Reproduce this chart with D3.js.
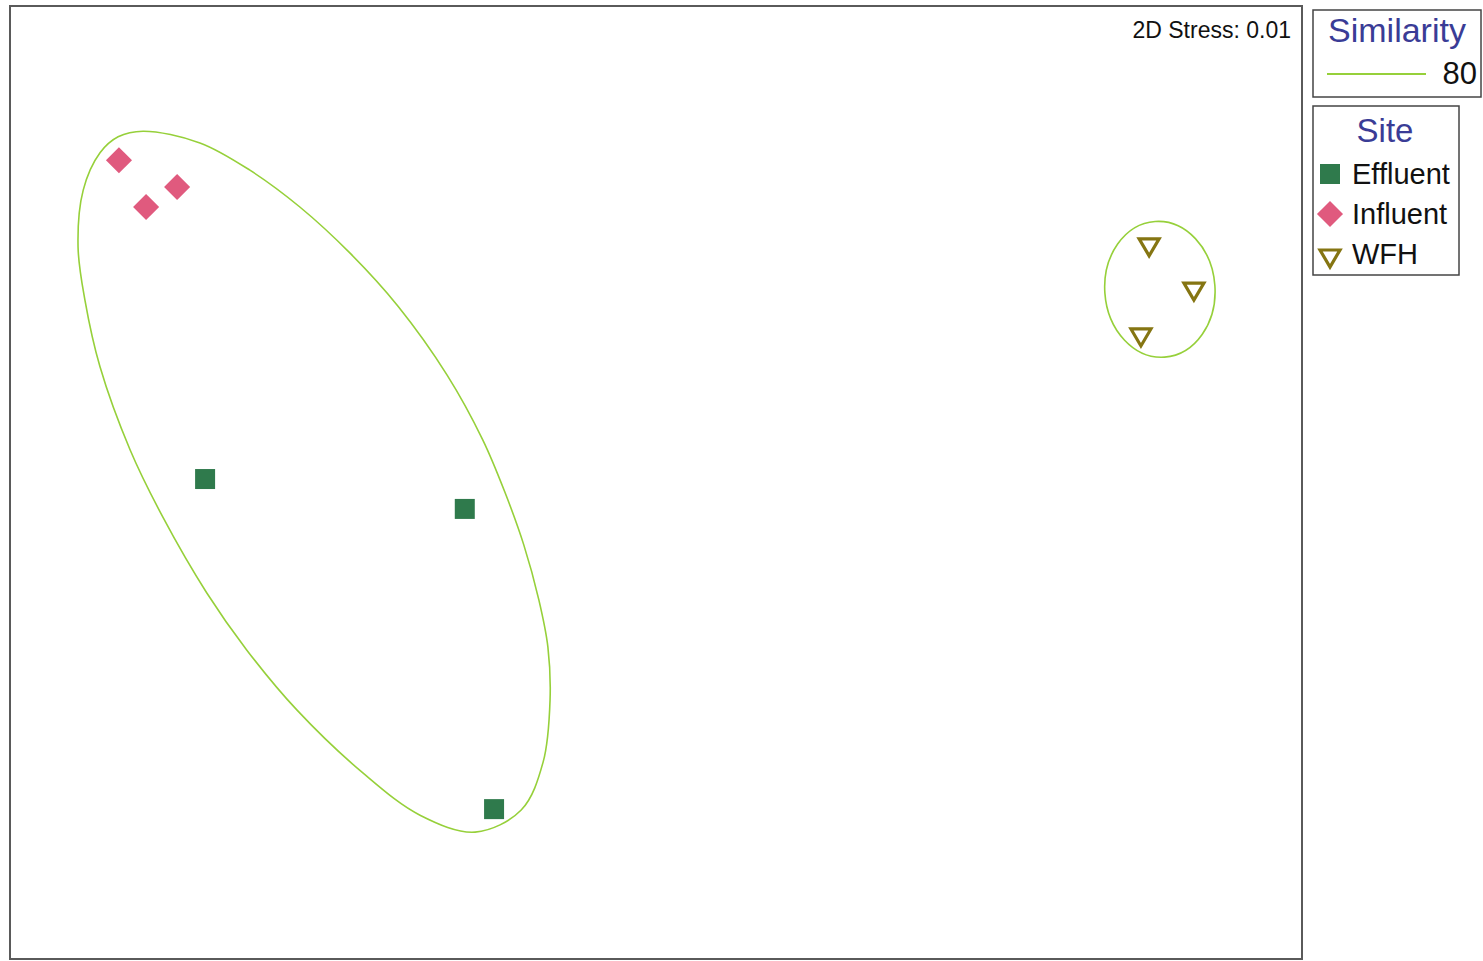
<!DOCTYPE html>
<html><head><meta charset="utf-8">
<script src="https://cdn.jsdelivr.net/npm/d3@7"></script>
<style>body{margin:0;background:#fff}svg{display:block}text{font-family:"Liberation Sans",Arial,sans-serif}</style>
</head><body>
<svg id="c" width="1483" height="961"></svg>
<script>
// nMDS coordinates (arbitrary units)
const sites = ["Effluent", "Influent", "WFH"];
const effluentX = [-1.047, -0.444, -0.376];
const effluentY = [0.008, -0.061, -0.754];
const influentX = [-1.247, -1.184, -1.112];
const influentY = [0.744, 0.636, 0.682];
const wfhX = [1.145, 1.249, 1.126];
const wfhY = [0.544, 0.442, 0.336];
// 80% similarity contour around Effluent + Influent (traced outline, nMDS units)
const contour1X = [-1.191, -1.059, -0.943, -0.827, -0.711, -0.599, -0.485, -0.402, -0.351, -0.307, -0.272, -0.251, -0.246, -0.262, -0.313, -0.420, -0.548, -0.680, -0.834, -0.950, -1.043, -1.145, -1.221, -1.291, -1.326, -1.342, -1.330, -1.291, -1.249];
const contour1Y = [0.811, 0.784, 0.721, 0.636, 0.530, 0.407, 0.248, 0.098, -0.022, -0.144, -0.271, -0.380, -0.502, -0.645, -0.756, -0.807, -0.768, -0.671, -0.525, -0.387, -0.255, -0.080, 0.075, 0.267, 0.421, 0.544, 0.675, 0.761, 0.798];
// 80% similarity contour around WFH: centre x, centre y, semi-axes, rotation (deg)
const contour2 = {cx: 1.170, cy: 0.446, rx: 0.128, ry: 0.157, rot: -4};
const stressLabel = "2D Stress: 0.01";
const similarityLevel = "80";

const svg = d3.select("#c");
const x = d3.scaleLinear().domain([-1.5, 1.5]).range([10, 1302]);
const y = d3.scaleLinear().domain([-1.1, 1.1]).range([959, 6]);

const colors = {Effluent: "#2f7a4c", Influent: "#e05a7e", WFH: "#857512"};
const contourColor = "#96d03a";
const blue = "#3a3c96";

// plot frame
svg.append("rect").attr("x", x(-1.5)).attr("y", y(1.1)).attr("width", x(1.5) - x(-1.5)).attr("height", y(-1.1) - y(1.1))
  .attr("fill", "none").attr("stroke", "#5a5a5a").attr("stroke-width", 2);

// contours
const c1 = contour1X.map((v, i) => [v, contour1Y[i]]);
svg.append("path")
  .attr("d", d3.line().x(d => x(d[0])).y(d => y(d[1])).curve(d3.curveCatmullRomClosed.alpha(0.5))(c1))
  .attr("fill", "none").attr("stroke", contourColor).attr("stroke-width", 1.6);

const ux = x(1) - x(0), uy = y(0) - y(1);
svg.append("ellipse")
  .attr("transform", `translate(${x(contour2.cx)},${y(contour2.cy)}) rotate(${contour2.rot})`)
  .attr("rx", contour2.rx * ux).attr("ry", contour2.ry * uy)
  .attr("fill", "none").attr("stroke", contourColor).attr("stroke-width", 1.6);

const symSquare = d3.symbol().type(d3.symbolSquare).size(400)();
const symDiamond = d3.symbol().type(d3.symbolSquare).size(340)();
const tri = "M-10,-8 L10,-8 L0,9 Z";

function drawMarker(g, site) {
  if (site === "Effluent") g.append("path").attr("d", symSquare).attr("fill", colors.Effluent);
  else if (site === "Influent") g.append("path").attr("d", symDiamond).attr("transform", "rotate(45)").attr("fill", colors.Influent);
  else g.append("path").attr("d", tri).attr("fill", "none").attr("stroke", colors.WFH).attr("stroke-width", 3.2).attr("stroke-linejoin", "miter");
}

const groups = [["Effluent", effluentX, effluentY], ["Influent", influentX, influentY], ["WFH", wfhX, wfhY]];
groups.forEach(([site, xs, ys]) => {
  xs.forEach((v, i) => {
    const g = svg.append("g").attr("transform", `translate(${x(v)},${y(ys[i])})`);
    drawMarker(g, site);
  });
});

// stress label
svg.append("text").attr("x", 1291).attr("y", 38).attr("text-anchor", "end").attr("font-size", 23).attr("fill", "#111").text(stressLabel);

// Similarity legend
svg.append("rect").attr("x", 1313).attr("y", 10).attr("width", 168).attr("height", 87).attr("fill", "#fff").attr("stroke", "#444").attr("stroke-width", 1.5);
svg.append("text").attr("x", 1397).attr("y", 42).attr("text-anchor", "middle").attr("font-size", 34).attr("fill", blue).text("Similarity");
svg.append("line").attr("x1", 1327).attr("x2", 1426).attr("y1", 74).attr("y2", 74).attr("stroke", contourColor).attr("stroke-width", 2);
svg.append("text").attr("x", 1477).attr("y", 84).attr("text-anchor", "end").attr("font-size", 31).attr("fill", "#111").text(similarityLevel);

// Site legend
svg.append("rect").attr("x", 1313).attr("y", 106).attr("width", 146).attr("height", 169).attr("fill", "#fff").attr("stroke", "#444").attr("stroke-width", 1.5);
svg.append("text").attr("x", 1385).attr("y", 142).attr("text-anchor", "middle").attr("font-size", 33).attr("fill", blue).text("Site");
sites.forEach((s, i) => {
  const yy = 174 + i * 40;
  const g = svg.append("g").attr("transform", `translate(1330,${yy + (s === "WFH" ? 4 : 0)})`);
  drawMarker(g, s);
  svg.append("text").attr("x", 1352).attr("y", yy + 10).attr("font-size", 29).attr("fill", "#111").text(s);
});
</script>
</body></html>
